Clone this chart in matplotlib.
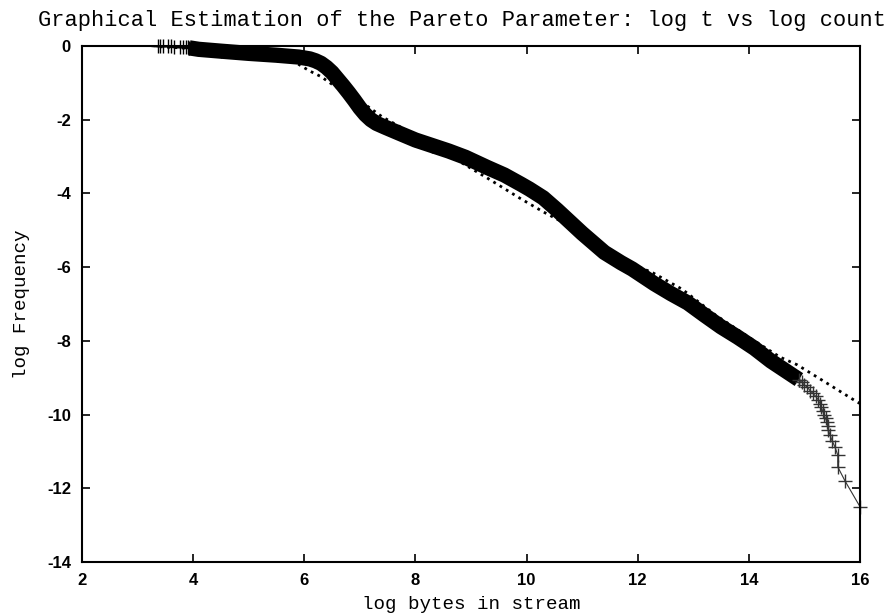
import matplotlib
matplotlib.use("Agg")
import matplotlib.pyplot as plt

# values (natural logs)
head_x = [3.36, 3.40, 3.45, 3.55, 3.60, 3.65, 3.77, 3.82, 3.87, 3.91]
head_y = [0.0, 0.0, 0.0, -0.01, -0.01, -0.02, -0.03, -0.03, -0.04, -0.04]

band_x = [3.93, 4.1, 4.5, 5.0, 5.5, 5.9, 6.1, 6.2, 6.3, 6.4, 6.5, 6.6, 6.7,
          6.8, 6.9, 7.0, 7.1, 7.2, 7.3, 7.45, 7.7, 8.0, 8.3, 8.6, 8.9, 9.3,
          9.6, 9.9, 10.05, 10.3, 10.55, 10.8, 11.0, 11.4, 11.7, 11.9, 12.1,
          12.3, 12.6, 12.9, 13.2, 13.5, 13.8, 14.1, 14.4, 14.7, 14.9]
band_y = [-0.05, -0.09, -0.14, -0.2, -0.25, -0.3, -0.35, -0.4, -0.47, -0.58,
          -0.72, -0.9, -1.08, -1.27, -1.47, -1.68, -1.86, -2.0, -2.1, -2.2,
          -2.36, -2.55, -2.7, -2.85, -3.02, -3.3, -3.5, -3.75, -3.88, -4.12,
          -4.45, -4.8, -5.08, -5.6, -5.88, -6.05, -6.25, -6.45, -6.72, -6.97,
          -7.3, -7.62, -7.9, -8.2, -8.55, -8.85, -9.05]

tail_x = [14.9, 14.95, 15.0, 15.05, 15.1, 15.15, 15.2, 15.25, 15.28, 15.3,
          15.33, 15.35, 15.38, 15.4, 15.42, 15.43, 15.46, 15.5, 15.55, 15.6,
          15.6, 15.73, 16.0]
tail_y = [-9.05, -9.12, -9.2, -9.25, -9.35, -9.42, -9.5, -9.6, -9.7, -9.8,
          -9.9, -10.02, -10.1, -10.2, -10.3, -10.42, -10.55, -10.72, -10.88,
          -11.1, -11.42, -11.8, -12.5]

fit_x = [3.4, 4.0, 4.6, 5.2, 5.6, 5.9, 6.1, 6.3, 6.52, 6.8, 7.06, 7.4, 7.72,
         8.2, 8.7, 9.29, 9.88, 10.3, 10.8, 11.3, 11.68, 12.0, 12.28, 12.8,
         13.4, 14.08, 14.56, 14.87, 15.3, 15.95, 16.0]
fit_y = [-0.02, -0.07, -0.14, -0.24, -0.35, -0.5, -0.68, -0.83, -1.06, -1.3,
         -1.55, -1.92, -2.19, -2.6, -3.05, -3.58, -4.13, -4.5, -4.9, -5.4,
         -5.8, -5.98, -6.16, -6.6, -7.3, -7.98, -8.44, -8.65, -9.05, -9.66,
         -9.7]

plt.rcParams['axes.unicode_minus'] = False

fig = plt.figure(figsize=(8.9, 6.14), dpi=100)
ax = fig.add_axes([82/890, 1-562/614, 778/890, 516/614])

mono = 'Liberation Mono'

ax.plot(fit_x, fit_y, color='k', lw=2.0, ls=':', zorder=1)
# dense part of the sample: markers merge into a solid band
ax.plot(band_x, band_y, color='k', lw=11, solid_capstyle='butt',
        solid_joinstyle='round', zorder=2, clip_on=False)
ax.plot(band_x, band_y, ls='none', marker='+', ms=10, mew=1.0, color='k',
        zorder=2, clip_on=False)
ax.plot(head_x, head_y, ls='-', lw=0.8, marker='+', ms=10, mew=1.0,
        color='k', zorder=2, clip_on=False)
ax.plot(tail_x, tail_y, ls='-', lw=0.8, marker='+', ms=10, mew=1.0,
        color='0.2', zorder=2, clip_on=False)

ax.set_xlim(2, 16)
ax.set_ylim(-14, 0)
ax.set_xticks(range(2, 17, 2))
ax.set_yticks(range(-14, 1, 2))
ax.tick_params(direction='in', length=6, width=1.2, top=True, right=True,
               labelsize=12, pad=8)
for lab in ax.get_xticklabels() + ax.get_yticklabels():
    lab.set_family('Liberation Sans')
    lab.set_fontweight('bold')
for s in ax.spines.values():
    s.set_linewidth(1.5)

ax.set_xlabel('log bytes in stream', family=mono, fontsize=13.8, labelpad=6)
ax.set_ylabel('log Frequency', family=mono, fontsize=13.8, labelpad=12)
fig.text(462.5/890, 1-26/614,
         'Graphical Estimation of the Pareto Parameter: log t vs log count',
         family=mono, fontsize=15.8, ha='center', va='baseline')

fig.savefig('out.png', dpi=100)
